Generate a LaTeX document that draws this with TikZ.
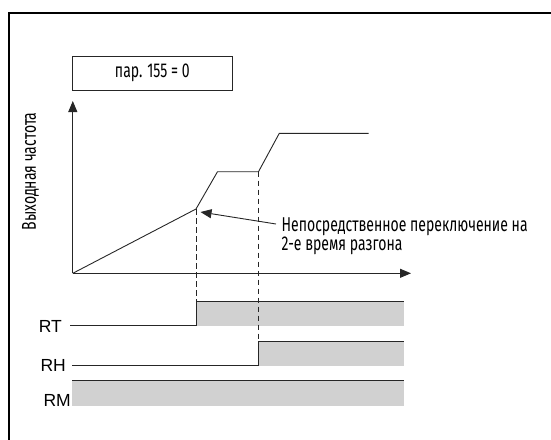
\documentclass[tikz,border=0pt]{standalone}
\usepackage{fontspec}
\setmainfont{Liberation Sans}
\newfontfamily\condf[FakeStretch=0.7]{Fira Sans}
\usetikzlibrary{arrows.meta}
\tikzset{
  thinline/.style={line width=0.9pt, draw=black!85},
  sigfill/.style={fill=black!18},
  axisarrow/.style={thinline, -{Triangle[length=11pt,width=9pt]}},
  dashline/.style={thinline, dash pattern=on 5.5pt off 3.5pt},
  ctext/.style={font=\condf\fontsize{20}{18.5}\selectfont, inner sep=0pt},
  siglabel/.style={font=\fontsize{17.5}{19}\selectfont, inner sep=0pt}
}
\begin{document}
\begin{tikzpicture}[x=1pt,y=-1pt]
\useasboundingbox (0,0) rectangle (551,439);
% frame
\draw[line width=2pt] (9,440) -- (9,13) -- (552,13);
% parameter box
\node[draw, thinline, minimum width=160.7pt, minimum height=34pt, ctext] (par) at (152.3,73) {пар. 155 = 0};
% axes
\coordinate (O) at (72.8,273.3);
\coordinate (ytip) at (72.8,101);
\coordinate (xtip) at (411,273.3);
\draw[axisarrow] (O) -- (ytip);
\draw[axisarrow] (O) -- (xtip);
\node[ctext, rotate=90] (ylab) at (30.5,171.5) {Выходная частота};
% frequency curve
\coordinate (b1) at (196,209);
\coordinate (p1) at (217.5,171.7);
\coordinate (b2) at (258.5,171.7);
\coordinate (p2) at (279.3,133.3);
\coordinate (p3) at (368.5,133.3);
\draw[thinline, line join=miter] (O) -- (b1) -- (p1) -- (b2) -- (p2) -- (p3);
% signals
\coordinate (rt0) at (70,325.7);
\coordinate (rt1) at (196,325.7);
\coordinate (rt2) at (196,301);
\coordinate (rt3) at (404,301);
\fill[sigfill] (rt2) rectangle (404,325.7);
\draw[thinline] (rt0) -- (rt1) -- (rt2) -- (rt3);
\coordinate (rh0) at (72,365.7);
\coordinate (rh1) at (258.5,365.7);
\coordinate (rh2) at (258.5,341);
\coordinate (rh3) at (404,341);
\fill[sigfill] (rh2) rectangle (404,365.7);
\draw[thinline] (rh0) -- (rh1) -- (rh2) -- (rh3);
\coordinate (rm0) at (72,380.7);
\coordinate (rm1) at (404,380.7);
\fill[sigfill] (rm0) rectangle (404,405.7);
\draw[thinline] (rm0) -- (rm1);
% dashed guides
\draw[dashline] (b1) -- (rt2);
\draw[dashline] (b2) -- (rh2);
% labels
\node[siglabel, anchor=east] (RT) at (62,326) {RT};
\node[siglabel, anchor=east] (RH) at (66,365.5) {RH};
\node[siglabel, anchor=east] (RM) at (71,400) {RM};
% annotation
\node[ctext, anchor=west, align=left] (note) at (281.5,236) {Непосредственное переключение на\\2-е время разгона};
\coordinate (atip) at (200.5,212);
\draw[thinline, -{Triangle[length=11pt,width=9pt]}] (276,224) -- (atip);
\end{tikzpicture}
\end{document}
